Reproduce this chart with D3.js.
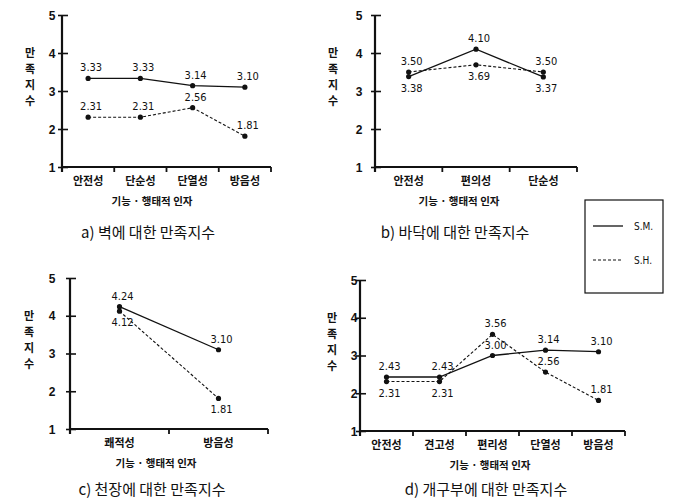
<!DOCTYPE html>
<html>
<head>
<meta charset="utf-8">
<script src="https://cdn.jsdelivr.net/npm/d3@7"></script>
<style>
  body { margin: 0; background: #fff; }
  text { fill: #111; }
  .num { font-family: "DejaVu Sans Condensed", "Liberation Sans Narrow", "Liberation Sans", sans-serif; font-stretch: condensed; font-size: 11px; }
  .kor { font-family: "Noto Sans CJK KR", "Noto Sans", sans-serif; }
</style>
</head>
<body>
<div id="chart"></div>
<script>
// chart size
const width = 680;
const height = 504;

// data for each panel
const wallCats = ["안전성", "단순성", "단열성", "방음성"];
const wallSM = [3.33, 3.33, 3.14, 3.10];
const wallSH = [2.31, 2.31, 2.56, 1.81];

const floorCats = ["안전성", "편의성", "단순성"];
const floorSM = [3.38, 4.10, 3.37];
const floorSH = [3.50, 3.69, 3.50];

const ceilCats = ["쾌적성", "방음성"];
const ceilSM = [4.24, 3.10];
const ceilSH = [4.12, 1.81];

const openCats = ["안전성", "견고성", "편리성", "단열성", "방음성"];
const openSM = [2.43, 2.43, 3.00, 3.14, 3.10];
const openSH = [2.31, 2.31, 3.56, 2.56, 1.81];

const yTicks = [1, 2, 3, 4, 5];
const yTitle = ["만", "족", "지", "수"];
const xTitle = "기능 · 행태적 인자";
const seriesNames = ["S.M.", "S.H."];

const svg = d3.select("#chart")
    .append("svg")
    .attr("width", width)
    .attr("height", height);

// panel layouts (where each small chart sits)
const panels = [
    { cats: wallCats, sm: wallSM, sh: wallSH, caption: "a) 벽에 대한 만족지수",
      x0: 62, x1: 271, top: 15, bottom: 167, tickDx: -14, titleDx: -32, capX: 148, capY: 238,
      smPos: ["t", "t", "t", "t"], shPos: ["t", "t", "t", "t"] },
    { cats: floorCats, sm: floorSM, sh: floorSH, caption: "b) 바닥에 대한 만족지수",
      x0: 375, x1: 577, top: 15, bottom: 167, tickDx: -20, titleDx: -42, capX: 455, capY: 238,
      smPos: ["b", "t", "b"], shPos: ["t", "b", "t"] },
    { cats: ceilCats, sm: ceilSM, sh: ceilSH, caption: "c) 천장에 대한 만족지수",
      x0: 70, x1: 268, top: 278, bottom: 429, tickDx: -22, titleDx: -41, capX: 152, capY: 495,
      smPos: ["t", "t"], shPos: ["b", "b"] },
    { cats: openCats, sm: openSM, sh: openSH, caption: "d) 개구부에 대한 만족지수",
      x0: 360, x1: 625, top: 280, bottom: 431, tickDx: -10, titleDx: -28, capX: 486, capY: 495,
      smPos: ["t", "t", "t", "t", "t"], shPos: ["b", "b", "t", "t", "t"] }
];

panels.forEach(p => drawPanel(p));

function drawPanel(p) {
    const g = svg.append("g");

    const y = d3.scaleLinear().domain([1, 5]).range([p.bottom, p.top]);
    const x = d3.scaleBand().domain(p.cats).range([p.x0, p.x1]);
    const cx = c => x(c) + x.bandwidth() / 2;

    // y axis
    const yAxis = g.append("g")
        .attr("transform", `translate(${p.x0},0)`)
        .call(d3.axisLeft(y).tickValues(yTicks).tickFormat(d3.format("d")).tickSize(4).tickSizeOuter(0));
    yAxis.select(".domain").remove();
    yAxis.selectAll(".tick line").attr("x1", -4).attr("x2", 6).attr("stroke", "#111").attr("stroke-width", 1.6);
    yAxis.selectAll(".tick text")
        .attr("x", p.tickDx + 4)
        .attr("text-anchor", "middle")
        .attr("dy", "0.35em")
        .style("font-family", "Liberation Sans, Arial, sans-serif")
        .style("font-size", "12px")
        .style("font-weight", "bold")
        .attr("fill", "#111");
    g.append("line")
        .attr("x1", p.x0).attr("x2", p.x0)
        .attr("y1", y(5)).attr("y2", y(1) + 5)
        .attr("stroke", "#111").attr("stroke-width", 2.2);

    // x axis
    g.append("line")
        .attr("x1", p.x0).attr("x2", p.x1)
        .attr("y1", y(1)).attr("y2", y(1))
        .attr("stroke", "#111").attr("stroke-width", 2);
    g.selectAll(".xtick")
        .data(p.cats)
        .join("line")
        .attr("x1", d => x(d) + x.bandwidth()).attr("x2", d => x(d) + x.bandwidth())
        .attr("y1", y(1)).attr("y2", y(1) + 5)
        .attr("stroke", "#111").attr("stroke-width", 1.8);
    g.selectAll(".xlab")
        .data(p.cats)
        .join("text")
        .attr("class", "kor")
        .attr("x", cx)
        .attr("y", y(1) + 18)
        .attr("text-anchor", "middle")
        .style("font-size", "11px")
        .style("font-weight", "bold")
        .text(d => d);

    // axis titles
    g.selectAll(".ytitle")
        .data(yTitle)
        .join("text")
        .attr("class", "kor")
        .attr("x", p.x0 + p.titleDx)
        .attr("y", (d, i) => p.top + 42 + i * 16)
        .attr("text-anchor", "middle")
        .style("font-size", "11px")
        .style("font-weight", "bold")
        .text(d => d);
    g.append("text")
        .attr("class", "kor")
        .attr("x", p.capX + 4)
        .attr("y", y(1) + 38)
        .attr("text-anchor", "middle")
        .style("font-size", "10.5px")
        .style("font-weight", "bold")
        .text(xTitle);

    // caption
    g.append("text")
        .attr("class", "kor")
        .attr("x", p.capX)
        .attr("y", p.capY)
        .attr("text-anchor", "middle")
        .style("font-size", "15px")
        .text(p.caption);

    // lines
    const line = d3.line().x((d, i) => cx(p.cats[i])).y(d => y(d));
    g.append("path")
        .datum(p.sm)
        .attr("d", line)
        .attr("fill", "none")
        .attr("stroke", "#111")
        .attr("stroke-width", 1.3);
    g.append("path")
        .datum(p.sh)
        .attr("d", line)
        .attr("fill", "none")
        .attr("stroke", "#111")
        .attr("stroke-width", 1.1)
        .attr("stroke-dasharray", "3,2");

    // points and value labels
    [[p.sm, p.smPos], [p.sh, p.shPos]].forEach(([vals, pos]) => {
        g.selectAll(null)
            .data(vals)
            .join("circle")
            .attr("cx", (d, i) => cx(p.cats[i]))
            .attr("cy", d => y(d))
            .attr("r", 2.6)
            .attr("fill", "#111");
        g.selectAll(null)
            .data(vals)
            .join("text")
            .attr("class", "num")
            .attr("x", (d, i) => cx(p.cats[i]) + 3)
            .attr("y", (d, i) => y(d) + (pos[i] === "t" ? -7 : 15))
            .attr("text-anchor", "middle")
            .text(d => d.toFixed(2));
    });
}

// legend box
const legend = svg.append("g");
legend.append("rect")
    .attr("x", 585).attr("y", 200)
    .attr("width", 78).attr("height", 93)
    .attr("fill", "none")
    .attr("stroke", "#111")
    .attr("stroke-width", 1.2);
legend.selectAll("line")
    .data(seriesNames)
    .join("line")
    .attr("x1", 593).attr("x2", 623)
    .attr("y1", (d, i) => 226 + i * 34).attr("y2", (d, i) => 226 + i * 34)
    .attr("stroke", "#111")
    .attr("stroke-width", (d, i) => i === 0 ? 1.3 : 1.1)
    .attr("stroke-dasharray", (d, i) => i === 0 ? null : "3,2");
legend.selectAll("text")
    .data(seriesNames)
    .join("text")
    .attr("class", "num")
    .attr("x", 634)
    .attr("y", (d, i) => 230 + i * 34)
    .style("font-size", "10px")
    .text(d => d);
</script>
</body>
</html>
